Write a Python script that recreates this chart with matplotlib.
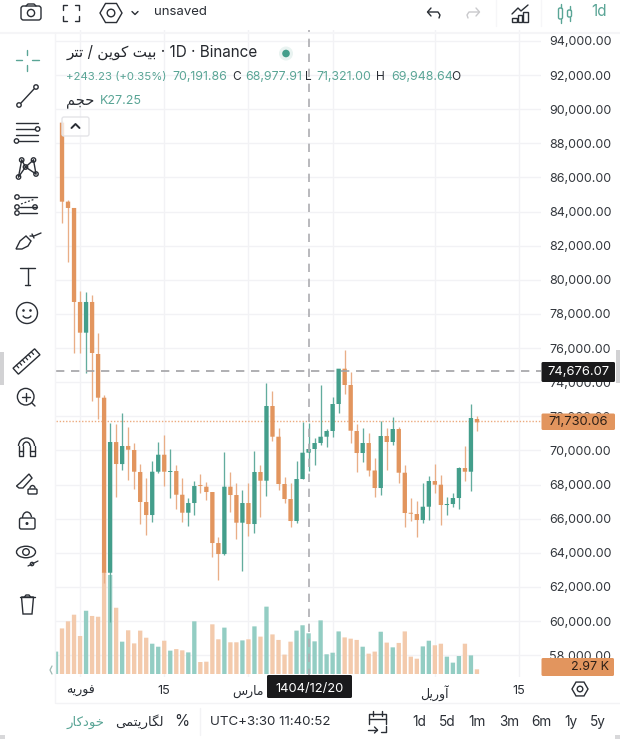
import numpy as np
import matplotlib
matplotlib.use("Agg")
import matplotlib.pyplot as plt
from matplotlib.patches import Circle, FancyBboxPatch, Rectangle, RegularPolygon, Ellipse, Arc, Polygon

# ---------- data ----------
days = list(range(70))
opens = [89210,84580,84210,78700,76900,78700,75650,73090,62830,70490,69200,70260,70024,68735,66976,66213,68752,69748,68735,68793,67403,66349,66917,67943,67873,67562,64572,63927,67873,67386,65763,66917,65686,68735,68225,72603,70803,68030,67152,65862,68324,69866,70083,70434,70803,71138,72720,74790,73834,71138,69848,70434,68822,67796,70845,70493,71255,68693,66331,66272,65920,66700,68207,67990,66800,66858,67210,68968,68752,71840]
closes = [84579,84210,78700,76900,78700,75710,73090,62830,70493,69203,70258,70041,68752,66976,66213,68752,69748,68752,68793,67403,66349,66917,67913,67913,67562,64572,63927,67873,67386,65763,66917,65686,68735,68225,72603,70803,68030,67152,65862,68324,69866,70083,70434,70803,71138,72720,74790,73834,71155,69848,70434,68822,67796,70845,70493,71255,68693,66331,66290,65920,66700,68207,67990,66800,66858,67210,68968,68752,71900,71646]
highs = [89310,84680,84210,79360,79303,79110,76880,73250,71625,71548,72193,71390,70452,69203,68383,69396,70493,70903,70083,69144,68383,67228,68225,68616,68148,67562,64924,69907,68752,68107,67679,68107,69983,69144,73969,73482,71331,68459,68089,69396,71682,71607,70727,73834,71255,73131,74790,75886,74596,71548,71314,71020,69555,71750,71331,71976,71390,69144,67228,67052,68089,68517,69203,68558,67286,67503,69045,70276,72720,72017]
lows = [83331,81062,75710,75710,74556,72896,71840,62227,59941,67270,68851,68265,67737,65686,65041,65803,68675,67932,67210,66566,65803,65569,66213,67503,67093,63769,62403,63868,66407,64807,62948,65001,65177,66096,67345,70569,67679,66917,65527,65745,68324,68811,69144,70317,70217,70803,72210,73306,70452,68752,69320,68500,67286,67386,68851,70317,68107,65510,65862,64924,65745,65920,67503,65628,66213,66700,66566,68225,67638,71156]
volume_days = list(range(-1, 70))
volumes_k = [14.2,28.9,33.4,37.6,24.1,40.1,36.8,36.3,64.7,62.8,42.0,20.5,27.7,19.4,27.5,23.0,19.2,17.3,21.1,14.8,15.8,15.0,13.7,33.4,7.6,7.8,31.5,22.0,29.4,20.1,20.1,21.3,22.0,30.2,23.7,42.7,25.1,21.6,12.3,20.5,27.5,30.9,25.8,20.7,34.0,12.5,13.5,27.0,23.2,22.4,21.6,17.3,12.9,14.2,26.8,19.9,16.9,19.7,27.0,11.0,9.7,17.5,21.1,18.2,19.2,11.0,7.2,11.4,19.2,11.8,2.97]
price_ticks = list(range(58000, 94001, 2000))
date_ticks = [3, 17, 31, 45, 62, 76]
date_labels = ["فوریه", "15", "مارس", "", "آوریل", "15"]
crosshair_price = 74676.07
crosshair_day = 41
last_price = 71730.06

# ---------- persian shaping (visual order, contextual forms) ----------
FORMS = {
    'ب': 'ﺏﺐﺑﺒ', 'ی': 'ﯼﯽﯾﯿ', 'ت': 'ﺕﺖﺗﺘ', 'ک': 'ﮎﮏﮐﮑ', 'ن': 'ﻥﻦﻧﻨ',
    'ح': 'ﺡﺢﺣﺤ', 'ج': 'ﺝﺞﺟﺠ', 'م': 'ﻡﻢﻣﻤ', 'ف': 'ﻑﻒﻓﻔ', 'ه': 'ﻩﻪﻫﻬ',
    'س': 'ﺱﺲﺳﺴ', 'ل': 'ﻝﻞﻟﻠ', 'گ': 'ﮒﮓﮔﮕ', 'خ': 'ﺥﺦﺧﺨ',
    'و': 'ﻭﻮ', 'ر': 'ﺭﺮ', 'ا': 'ﺍﺎ', 'آ': 'ﺁﺂ', 'د': 'ﺩﺪ', 'ز': 'ﺯﺰ',
}
def fa(s):
    if not any(ch in FORMS for ch in s):
        return s
    out = []
    for i, ch in enumerate(s):
        if ch not in FORMS:
            out.append(ch)
            continue
        prev = s[i-1] if i else ''
        nxt = s[i+1] if i + 1 < len(s) else ''
        j_prev = prev in FORMS and len(FORMS[prev]) == 4
        j_next = nxt in FORMS and len(FORMS[ch]) == 4
        f = FORMS[ch]
        if len(f) == 2:
            out.append(f[1] if j_prev else f[0])
        elif j_prev and j_next:
            out.append(f[3])
        elif j_prev:
            out.append(f[1])
        elif j_next:
            out.append(f[2])
        else:
            out.append(f[0])
    return ''.join(reversed(out))

# ---------- style ----------
plt.rcParams['font.family'] = ['Inter', 'DejaVu Sans']
UP, DOWN = '#439e8b', '#e2955e'
UP_WICK, DOWN_WICK = '#62ac9d', '#e9ae87'
UP_VOL, DOWN_VOL = '#93cdc3', '#f3caac'
TEAL, DARK, GRID = '#5aa596', '#2a2e35', '#f2f2f5'
W, H = 620, 739
fig = plt.figure(figsize=(W/100, H/100), dpi=100, facecolor='white')

def pos(x0, y0, x1, y1):
    return [x0/W, 1 - y1/H, (x1-x0)/W, (y1-y0)/H]

chart = pos(56, 30, 541, 677)
x_lim = (-1.0, 79.65)
y_lim = (56720, 94640)

o, c, h, l = map(np.array, (opens, closes, highs, lows))
d = np.array(days)
up = c >= o

# grid layer
bg = fig.add_axes(chart, zorder=0)
bg.set_xlim(x_lim); bg.set_ylim(y_lim)
bg.set_xticks(date_ticks); bg.set_yticks(price_ticks)
bg.grid(True, color=GRID, lw=1)
bg.tick_params(length=0, labelleft=False, labelbottom=False)
for s in bg.spines.values():
    s.set_visible(False)

# volume layer
vol = fig.add_axes(pos(56, 474, 541, 674), zorder=1)
vol.patch.set_alpha(0)
vol_up = np.array([True] + list(up))
vb = vol.bar(volume_days, volumes_k, width=0.72,
             color=[UP_VOL if u else DOWN_VOL for u in vol_up])
for p in vb:
    p.set_snap(False)
vol.set_xlim(x_lim); vol.set_ylim(0, 126.8)
vol.axis('off')

# candle layer
ax = fig.add_axes(chart, zorder=2)
ax.patch.set_alpha(0)
ax.set_xlim(x_lim); ax.set_ylim(y_lim)
ax.vlines(d, l, h, colors=[UP_WICK if u else DOWN_WICK for u in up], lw=0.95, zorder=2)
cb = ax.bar(d, np.maximum(np.abs(c-o), 55), bottom=np.minimum(o, c), width=0.72,
            color=[UP if u else DOWN for u in up], zorder=3)
for p in cb:
    p.set_snap(False)
ax.axhline(crosshair_price, color='#a2a2a6', lw=1.2, dashes=(5, 4), zorder=5)
ax.axvline(crosshair_day, color='#adadb1', lw=1.2, dashes=(5, 4), zorder=5)
ax.axhline(last_price, color='#ecaa7e', lw=1.0, dashes=(1, 1.3), zorder=1)
ax.yaxis.tick_right()
ax.set_yticks(price_ticks)
ax.set_yticklabels([f"{p:,.2f}" for p in price_ticks], fontsize=9, color='#33373d')
ax.set_xticks(date_ticks)
ax.set_xticklabels([fa(t) for t in date_labels], fontsize=9, color=DARK)
ax.tick_params(axis='y', length=0, pad=6.0)
ax.tick_params(axis='x', length=0, pad=6)
for s in ax.spines.values():
    s.set_visible(False)

# ---------- chrome overlay in pixel space ----------
ui = fig.add_axes([0, 0, 1, 1], zorder=5)
ui.set_xlim(0, W); ui.set_ylim(H, 0); ui.axis('off'); ui.patch.set_alpha(0)
LW = 1.0

def line(xs, ys, color=DARK, lw=LW, **k):
    ui.plot(xs, ys, color=color, lw=lw, solid_capstyle='round', solid_joinstyle='round', **k)
def circ(x, y, r, color=DARK, lw=LW, fc='none'):
    ui.add_patch(Circle((x, y), r, fc=fc, ec=color, lw=lw))
def rbox(x0, y0, x1, y1, fc='none', ec=DARK, lw=LW, r=2, **k):
    ui.add_patch(FancyBboxPatch((x0, y0), x1-x0, y1-y0,
                 boxstyle=f"round,pad=0,rounding_size={r}", fc=fc, ec=ec, lw=lw, **k))
def txt(x, y, s, size=9, color=DARK, ha='center', **k):
    ui.text(x, y, s, fontsize=size, color=color, ha=ha, va='center', **k)

# separators
line([0, 620], [33, 33], color='#f5f5f7', lw=1.5)
line([55, 55], [33, 703], color='#f4f4f6', lw=1)
line([56, 620], [703, 703], color='#f3f3f5', lw=1)
line([200, 200], [708, 735], color='#f3f3f5', lw=1)
line([496, 496], [0, 26], color='#f6f6f8', lw=1)
line([541, 541], [0, 26], color='#f6f6f8', lw=1)

# top bar
rbox(21, 6, 41, 20, r=2.5)
line([26, 28, 34, 36], [6, 4, 4, 6])
circ(31, 13, 3.6)
for sx, sy in ((-1, -1), (1, -1), (-1, 1), (1, 1)):
    line([71+sx*8, 71+sx*8, 71+sx*4], [13+sy*3, 13+sy*8, 13+sy*8])
ui.add_patch(RegularPolygon((111, 13), 6, radius=11, orientation=np.pi/2, fc='none', ec=DARK, lw=LW))
circ(111, 13, 3.8)
line([132, 135, 138], [11.5, 14.5, 11.5])
txt(154, 12, 'unsaved', 9.5, ha='left')
line([428, 438, 440, 439], [12, 12, 15, 18]); line([431, 427.5, 431], [8, 12, 16])
line([479, 469, 467, 468], [12, 12, 15, 18], color='#c9c9cc'); line([476, 479.5, 476], [8, 12, 16], color='#c9c9cc')
line([512, 518, 521, 528], [14, 8, 11, 5])
for x0, top in ((512, 18), (517.5, 15), (523, 12)):
    ui.add_patch(Rectangle((x0, top), 4.5, 21.5-top, fc='none', ec=DARK, lw=LW))
rbox(558.5, 8, 562.5, 19, ec=TEAL, r=1.5); line([560.5, 560.5], [4, 8], color=TEAL); line([560.5, 560.5], [19, 23], color=TEAL)
rbox(567.5, 10, 571.5, 17, ec=TEAL, r=1.5); line([569.5, 569.5], [6, 10], color=TEAL); line([569.5, 569.5], [17, 21], color=TEAL)
txt(599, 12, '1d', 11, TEAL)

# legend block
txt(67, 52, fa('بیت کوین / تتر') + ' · 1D · Binance', 11, '#25282e', ha='left')
circ(286, 53.5, 7, color='#e9f3f1', lw=0, fc='#e9f3f1')
circ(286, 53.5, 3.8, color=UP, lw=0, fc=UP)
txt(66, 77, '+243.23 (+0.35%)', 8.2, TEAL, ha='left')
for x, num, let in ((172, '70,191.86', 'C'), (245, '68,977.91', 'L'),
                    (316, '71,321.00', 'H'), (391, '69,948.64', 'O')):
    txt(x, 77, num, 8.9, TEAL, ha='left')
    txt(x+60, 77, let, 8.6, DARK, ha='left')
txt(66, 101, fa('حجم'), 10.5, ha='left')
txt(100, 101, 'K27.25', 9, TEAL, ha='left')
rbox(62, 117, 89, 136, fc=(1, 1, 1, 0.75), ec='#e4e4e8', lw=1, r=2)
line([71.5, 75.5, 79.5], [128, 124, 128], lw=1.4)

# left toolbar
line([27, 27], [50, 55], color=TEAL); line([27, 27], [65, 71], color=TEAL)
line([16, 22], [60, 60], color=TEAL); line([32, 39], [60, 60], color=TEAL)
line([21, 34], [103, 89]); circ(19, 105, 2.2); circ(36, 87, 2.2)
for y, x1 in ((122.7, 38), (129, 35), (135, 38), (141, 38)):
    line([19 if y == 141 else 16, x1], [y, y])
circ(37.6, 129, 2.2); circ(16.5, 141, 2.2)
pts = {'a': (21.7, 160), 'b': (33.5, 160), 'c': (18.5, 177), 'd': (36, 174), 'e': (25.5, 167)}
for p, q in ('ae', 'ec', 'eb', 'ed', 'ac', 'bd'):
    line([pts[p][0], pts[q][0]], [pts[p][1], pts[q][1]])
for v in pts.values():
    circ(v[0], v[1], 2.2, fc='white')
for y, x0 in ((197, 20), (207, 20), (213, 20)):
    line([x0, 37], [y, y])
for x, y in ((17, 197), (17, 207), (35, 207), (17, 213)):
    circ(x, y, 2.2, fc='white')
line([21, 35], [204, 199], lw=0.9, ls=(0, (1.5, 1.5)))
ui.add_patch(Polygon([(16, 249), (20, 241), (26, 236), (31, 241), (28, 246), (22, 249)], fc='none', ec=DARK, lw=LW))
line([30, 34, 41], [236, 236, 233]); line([32, 34], [234, 238])
line([20, 35], [268, 268]); line([27.5, 27.5], [268, 285]); line([25, 30], [285, 285])
circ(27, 313, 10.5); circ(23.5, 310.5, 0.6, fc=DARK); circ(30.5, 310.5, 0.6, fc=DARK)
ui.add_patch(Arc((27, 314), 9, 8, theta1=20, theta2=160, ec=DARK, lw=LW))
ruler = np.array([(-14.5, -4), (14.5, -4), (14.5, 4), (-14.5, 4)])
t = np.deg2rad(-42); R = np.array([[np.cos(t), -np.sin(t)], [np.sin(t), np.cos(t)]])
ui.add_patch(Polygon(ruler @ R.T + (26.5, 361.5), fc='none', ec=DARK, lw=LW))
for v in np.arange(-10, 11, 4):
    a = np.array([v, -4]) @ R.T + (26.5, 361.5); b = np.array([v, -0.5]) @ R.T + (26.5, 361.5)
    line([a[0], b[0]], [a[1], b[1]], lw=0.9)
circ(25.7, 396.7, 8.3); line([31.5, 35], [402.5, 406]); line([22, 29.5], [396.7, 396.7]); line([25.7, 25.7], [393, 400.5])
ui.add_patch(Arc((26.5, 446), 16, 16, theta1=180, theta2=360, ec=DARK, lw=LW))
ui.add_patch(Arc((26.5, 446), 7, 8, theta1=180, theta2=360, ec=DARK, lw=LW))
line([18.5, 18.5, 23, 23], [446, 456, 456, 446]); line([30, 30, 34.5, 34.5], [446, 456, 456, 446])
line([18.5, 23], [451, 451]); line([30, 34.5], [451, 451])
ui.add_patch(Polygon([(16.5, 486), (19, 488), (23, 488), (32, 478), (29, 474), (20, 483)], fc='none', ec=DARK, lw=LW))
rbox(28, 489, 37, 494, r=1); ui.add_patch(Arc((32.5, 489), 5.4, 7, theta1=190, theta2=350, ec=DARK, lw=LW))
rbox(19.5, 518, 35, 529, r=1.8); circ(27, 523.5, 0.8, fc=DARK)
ui.add_patch(Arc((27, 518), 9, 12, theta1=180, theta2=350, ec=DARK, lw=LW))
ui.add_patch(Ellipse((26, 552), 19, 11.5, fc='none', ec=DARK, lw=LW)); circ(26, 552, 3.3)
line([28, 38], [566, 561], lw=0.9); circ(32, 564, 1.7, lw=0.9)
line([20, 35], [597, 597]); line([24.5, 26, 29, 30.5], [597, 595, 595, 597])
ui.add_patch(Polygon([(21.5, 597), (33.5, 597), (32, 614), (23, 614)], fc='none', ec=DARK, lw=LW))

# side handles
ui.add_patch(Rectangle((0, 352), 4, 33, fc='#d2d2d4', ec='none'))
ui.add_patch(Rectangle((615.5, 350), 4.5, 33, fc='#d2d2d4', ec='none'))
ui.add_patch(Rectangle((0, 735), 5, 4, fc='#d8d8da', ec='none'))
ui.add_patch(Rectangle((615, 735), 5, 4, fc='#d8d8da', ec='none'))
line([52, 50, 52], [666, 670, 674], color='#9fb8b3', lw=0.9)

# price flags
rbox(541.5, 362, 615, 382, fc='#1a1a1c', ec='none', r=1.5)
txt(578, 372, f"{crosshair_price:,.2f}", 9.3, 'white')
rbox(541.5, 413.5, 615, 430, fc=DOWN, ec='none', r=1.5)
txt(578, 422, f"{last_price:,.2f}", 9.3, '#2d1f16')
rbox(541.5, 658, 614, 676, fc=DOWN, ec='none', r=1.5)
txt(609, 667, '2.97 K', 9, '#2d1f16', ha='right')

# date flag
rbox(267, 675, 352, 698, fc='#1a1a1c', ec='none', r=1.5)
txt(309.5, 689, '1404/12/20', 9.3, 'white')
ui.add_patch(RegularPolygon((580, 689), 6, radius=8, orientation=np.pi/2, fc='none', ec=DARK, lw=1))
circ(580, 689, 2.8, lw=1)

# bottom bar
txt(85, 722, fa('خودکار'), 9.5, TEAL)
txt(139, 722, fa('لگاریتمی'), 9.5)
txt(182, 722, '%', 11)
txt(210, 722, 'UTC+3:30 11:40:52', 9.6, ha='left')
line([369, 369, 386, 386], [724, 714, 714, 724])
line([369, 386], [718.5, 718.5]); line([373, 373], [711, 716]); line([382, 382], [711, 716])
line([386, 386, 381], [726, 732, 732]); line([368, 377], [730, 730]); line([374.5, 377.5, 374.5], [727, 730, 733])
for x, s in zip((419, 447, 477, 509, 541, 571, 598), ('1d', '5d', '1m', '3m', '6m', '1y', '5y')):
    txt(x, 722, s, 9.8)

fig.savefig('out.png', dpi=100, facecolor='white')
